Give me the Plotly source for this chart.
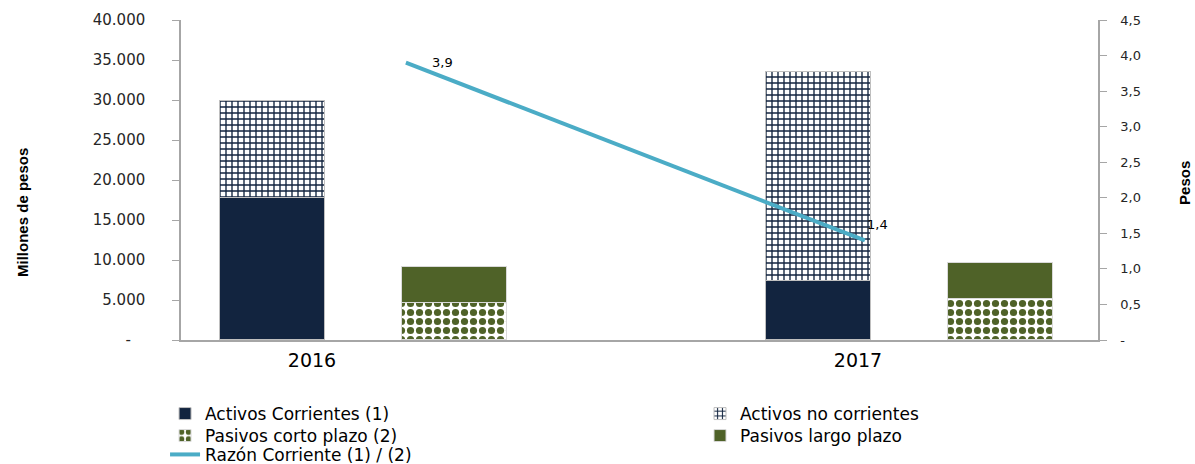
import plotly.graph_objects as go

# ---- data ----
years = ["2016", "2017"]
activos_corrientes = [17750, 7400]
activos_no_corrientes = [12150, 26100]
pasivos_corto_plazo = [4650, 5150]
pasivos_largo_plazo = [4500, 4500]
razon_corriente = [3.9, 1.4]
razon_labels = ["3,9", "1,4"]

left_ticks = [0, 5000, 10000, 15000, 20000, 25000, 30000, 35000, 40000]
left_ticktext = ["-\u00a0\u00a0\u00a0", "5.000", "10.000", "15.000", "20.000",
                 "25.000", "30.000", "35.000", "40.000"]
right_ticks = [0, 0.5, 1.0, 1.5, 2.0, 2.5, 3.0, 3.5, 4.0, 4.5]
right_ticktext = ["-", "0,5", "1,0", "1,5", "2,0", "2,5", "3,0", "3,5", "4,0", "4,5"]

# ---- layout helpers ----
idx = list(range(len(years)))
off_act = -0.073
off_pas = 0.261
bw = 0.192
x_act = [i + off_act for i in idx]
x_pas = [i + off_pas for i in idx]

NAVY = "#12243F"
GREEN = "#4F6228"
LINE = "#4BACC6"
AXIS = "#A6A6A6"
TXT = "#262626"
FONT = "DejaVu Sans"

fig = go.Figure()

fig.add_trace(go.Bar(
    x=x_act, y=activos_corrientes, width=bw, name="Activos Corrientes (1)",
    marker=dict(color=NAVY, line=dict(color="#BFBFBF", width=1)),
    legend="legend",
))
fig.add_trace(go.Bar(
    x=x_act, y=activos_no_corrientes, width=bw, name="Activos no corrientes",
    marker=dict(color="white", line=dict(color="#BFBFBF", width=1),
                pattern=dict(shape="+", fgcolor=NAVY, bgcolor="white",
                             size=6, solidity=0.4, fillmode="replace")),
    legend="legend2",
))
fig.add_trace(go.Bar(
    x=x_pas, y=pasivos_corto_plazo, width=bw, name="Pasivos corto plazo (2)",
    marker=dict(color="white", line=dict(color="#D9D9D9", width=1),
                pattern=dict(shape=".", fgcolor=GREEN, bgcolor="white",
                             size=9, solidity=0.5, fillmode="replace")),
    legend="legend3",
))
fig.add_trace(go.Bar(
    x=x_pas, y=pasivos_largo_plazo, width=bw, name="Pasivos largo plazo",
    marker=dict(color=GREEN, line=dict(color="#D9D9D9", width=1)),
    legend="legend4",
))
fig.add_trace(go.Scatter(
    x=idx, y=razon_corriente, mode="lines", name="Razón Corriente (1) / (2)",
    line=dict(color=LINE, width=4), xaxis="x2", yaxis="y2",
    legend="legend5",
))

annotations = []
shifts = [(24, 0), (0, 16)]
for i, (v, t) in enumerate(zip(razon_corriente, razon_labels)):
    annotations.append(dict(
        x=i, y=v, xref="x2", yref="y2", text=t, showarrow=False,
        xanchor="left", yanchor="middle", xshift=shifts[i][0], yshift=shifts[i][1],
        font=dict(family=FONT, size=13, color="#000000"),
    ))

title_font = dict(family="Liberation Sans Narrow, Liberation Sans, sans-serif",
                  size=15, color="#000000", weight="bold")
annotations.append(dict(
    x=-0.1723, y=0.397, xref="paper", yref="paper", text="Millones de pesos",
    showarrow=False, textangle=-90, xanchor="center", yanchor="middle",
    font=title_font,
))
annotations.append(dict(
    x=1.0949, y=0.491, xref="paper", yref="paper", text="Pesos",
    showarrow=False, textangle=-90, xanchor="center", yanchor="middle",
    font=title_font,
))

legend_font = dict(family=FONT, size=17, color="#000000")


def leg(x, y):
    return dict(x=x, y=y, xanchor="left", yanchor="middle", orientation="v",
                font=legend_font, bgcolor="rgba(0,0,0,0)", tracegroupgap=0,
                itemwidth=30)


col1, col2 = -0.0174, 0.566
row1, row2, row3 = -0.23125, -0.30, -0.359

fig.update_layout(
    width=1195, height=464,
    margin=dict(l=181, r=97, t=20, b=124, autoexpand=False),
    paper_bgcolor="white", plot_bgcolor="white",
    barmode="stack",
    bargap=0,
    showlegend=True,
    xaxis=dict(
        range=[-0.2399, 1.4396], tickvals=idx, ticktext=years,
        showline=True, linecolor=AXIS, linewidth=1.5, ticks="",
        showgrid=False, zeroline=False,
        tickfont=dict(family=FONT, size=19, color="#000000"),
        ticklabelstandoff=2,
    ),
    xaxis2=dict(
        range=[-0.490, 1.508], overlaying="x", visible=False,
    ),
    yaxis=dict(
        range=[0, 40000], tickvals=left_ticks, ticktext=left_ticktext,
        showline=True, linecolor=AXIS, linewidth=1.5, ticks="outside",
        ticklen=7, tickcolor=AXIS, showgrid=False, zeroline=False,
        tickfont=dict(family=FONT, size=15, color=TXT),
        ticklabelstandoff=24,
    ),
    yaxis2=dict(
        range=[0, 4.5], tickvals=right_ticks, ticktext=right_ticktext,
        overlaying="y", side="right", anchor="x",
        showline=True, linecolor=AXIS, linewidth=1.5, ticks="outside",
        ticklen=7, tickcolor=AXIS, showgrid=False, zeroline=False,
        tickfont=dict(family=FONT, size=13, color=TXT),
        ticklabelstandoff=11,
    ),
    legend=leg(col1, row1),
    legend2=leg(col2, row1),
    legend3=leg(col1, row2),
    legend4=leg(col2, row2),
    legend5=leg(col1, row3),
    annotations=annotations,
)

fig.write_html("out.html")
